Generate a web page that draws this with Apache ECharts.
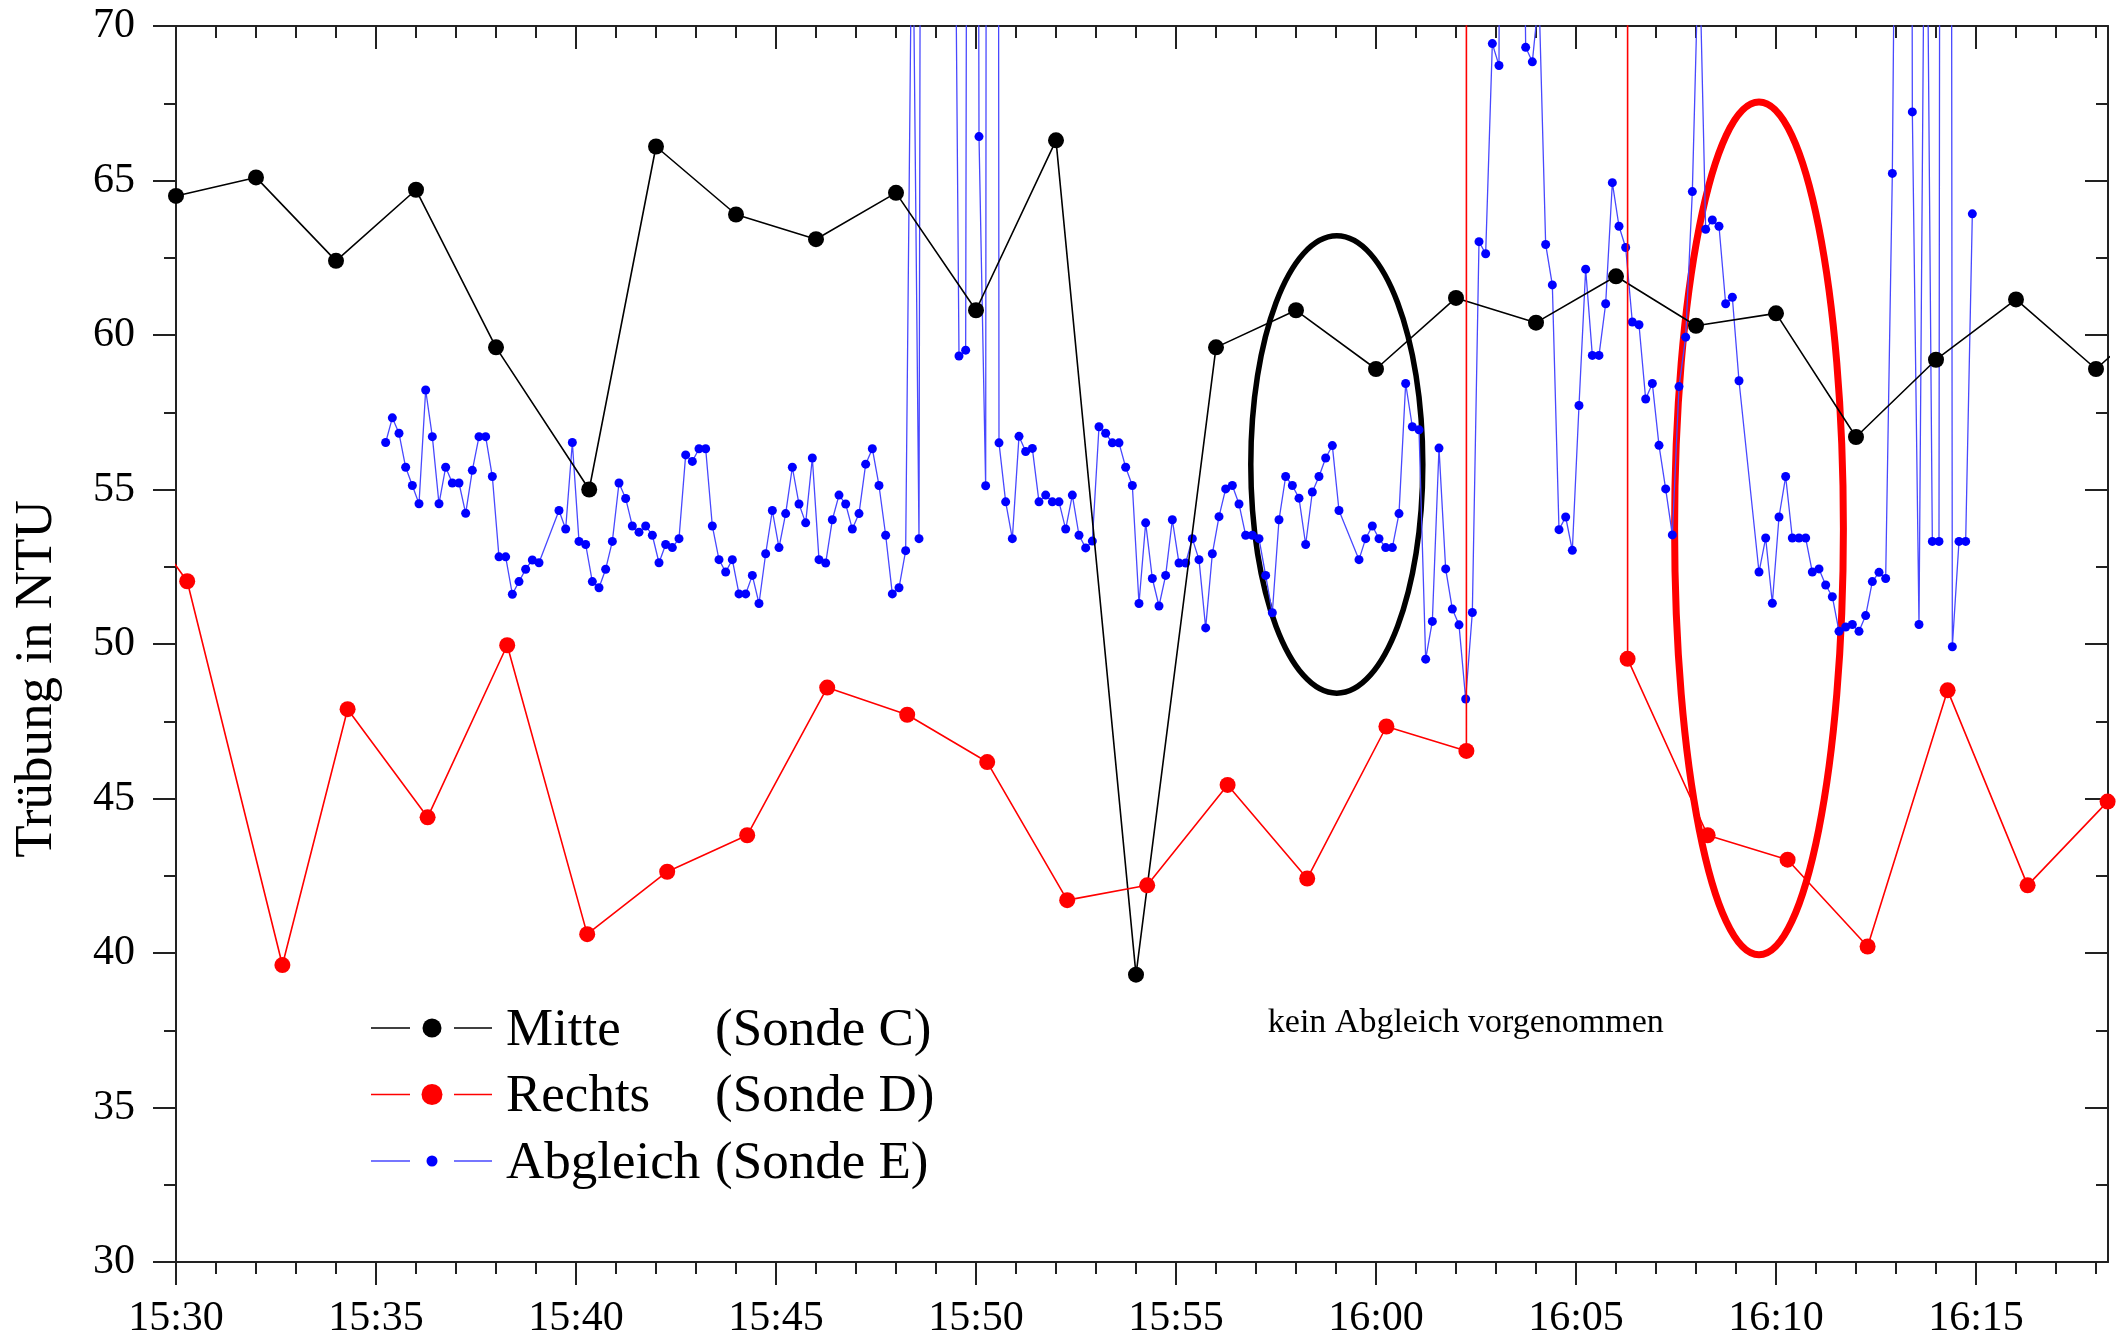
<!DOCTYPE html>
<html><head><meta charset="utf-8">
<script src="https://cdn.jsdelivr.net/npm/echarts@6/dist/echarts.min.js"></script>
<style>html,body{margin:0;padding:0;background:#fff}#c{width:2127px;height:1343px}</style>
</head><body><div id="c"></div>
<script>
// x values: minutes after 15:30
const xTickValues = [0, 5, 10, 15, 20, 25, 30, 35, 40, 45];
const xTickLabels = ['15:30','15:35','15:40','15:45','15:50','15:55','16:00','16:05','16:10','16:15'];
const xMinorTickValues = [0,1,2,3,4,5,6,7,8,9,10,11,12,13,14,15,16,17,18,19,20,21,22,23,24,25,26,27,28,29,30,31,32,33,34,35,36,37,38,39,40,41,42,43,44,45,46,47,48];
const xMin = 0, xMax = 48.3;
const yMin = 30, yMax = 70, yStep = 5;

const mitteTimes  = [0, 2, 4, 6, 8, 10.33, 12, 14, 16, 18, 20, 22, 24, 26, 28, 30, 32, 34, 36, 38, 40, 42, 44, 46, 48, 50];
const mitteValues = [64.5, 65.1, 62.4, 64.7, 59.6, 55.0, 66.1, 63.9, 63.1, 64.6, 60.8, 66.3, 39.3, 59.6, 60.8, 58.9, 61.2, 60.4, 61.9, 60.3, 60.7, 56.7, 59.2, 61.15, 58.9, 61.2];

const rechtsTimes  = [-1.72, 0.28, 2.66, 4.29, 6.29, 8.28, 10.28, 12.28, 14.28, 16.28, 18.28, 20.28, 22.28, 24.28, 26.29, 28.28, 30.26, 32.26, 32.26, 36.29, 36.29, 38.29, 40.29, 42.29, 44.29, 46.29, 48.29];
const rechtsValues = [55.6, 52.03, 39.61, 47.89, 44.39, 49.96, 40.61, 42.63, 43.81, 48.59, 47.71, 46.18, 41.71, 42.19, 45.44, 42.41, 47.33, 46.54, 500, 500, 49.52, 43.81, 43.02, 40.21, 48.5, 42.19, 44.9];

// Sonde E: one reading every 10 s, first at 15:35:14.5; null = no reading
const abgleichStart = 5.2417;
const abgleichStep = 1 / 6;
const abgleichValues = [
 56.52,57.32,56.82,55.72,55.13,54.54,58.22,56.71,54.54,55.72,
 55.21,55.21,54.23,55.62,56.71,56.71,55.42,52.82,52.82,51.61,
 52.02,52.42,52.72,52.63,null,null,54.32,53.72,56.52,53.32,
 53.22,52.02,51.82,52.42,53.32,55.21,54.71,53.82,53.62,53.82,
 53.52,52.63,53.22,53.12,53.41,56.12,55.91,56.32,56.32,53.82,
 52.73,52.33,52.73,51.62,51.62,52.22,51.31,52.92,54.32,53.12,
 54.22,55.72,54.53,53.92,56.02,52.73,52.62,54.02,54.82,54.53,
 53.72,54.22,55.82,56.32,55.13,53.52,51.62,51.82,53.02,75.5,
 53.41,160,150,130,110,86,59.32,59.51,165,66.42,
 55.12,300,56.51,54.60,53.41,56.72,56.23,56.33,54.60,54.82,
 54.60,54.60,53.72,54.82,53.52,53.11,53.33,57.03,56.82,56.51,
 56.51,55.72,55.13,51.31,53.92,52.12,51.23,52.22,54.02,52.62,
 52.62,53.41,52.73,50.52,52.92,54.12,55.02,55.13,54.53,53.52,
 53.52,53.41,52.22,51.01,54.02,55.42,55.13,54.72,53.22,54.92,
 55.42,56.02,56.42,54.32,null,null,52.73,53.41,53.82,53.41,
 53.12,53.12,54.22,58.43,57.03,56.93,49.51,50.73,56.34,52.43,
 51.13,50.62,48.22,51.02,63.02,62.63,69.43,68.72,150,150,
 90,69.31,68.84,71,62.93,61.62,53.70,54.11,53.03,57.72,
 62.13,59.34,59.34,61.01,64.93,63.52,62.83,60.42,60.33,57.93,
 58.43,56.43,55.02,53.53,58.33,59.93,64.64,73,63.42,63.72,
 63.52,61.01,61.22,58.52,null,null,52.33,53.43,51.32,54.11,
 55.42,53.43,53.43,53.43,52.33,52.43,51.91,51.53,50.41,50.55,
 50.63,50.41,50.92,52.02,52.32,52.12,65.23,90,200,67.22,
 50.63,80,53.32,53.32,250,49.91,53.32,53.32,63.92
];

// highlighted regions (data units: centre time, centre value, half width, half height)
const ellipseCenterX = [29.02, 39.575];
const ellipseCenterY = [55.81, 53.74];
const ellipseHalfW   = [2.15, 2.11];
const ellipseHalfH   = [7.40, 13.8];
const ellipseColors  = ['#000000', '#ff0000'];
const ellipseWidths  = [5.5, 7];

const noteText = 'kein Abgleich vorgenommen';
const noteX = 32.245, noteY = 37.72;

const legendNames  = ['Mitte', 'Rechts', 'Abgleich'];
const legendProbes = ['(Sonde C)', '(Sonde D)', '(Sonde E)'];
const legendLineColors = ['#000000', '#ff0000', '#4848ff'];
const legendDotColors  = ['#000000', '#ff0000', '#0000ff'];
const legendDotR = [9.5, 10.5, 5.5];

const FONT = "'Liberation Serif', 'Times New Roman', serif";
const AX = '#222';

const mitteData = mitteTimes.map((t, i) => [t, mitteValues[i]]);
const rechtsData = rechtsTimes.map((t, i) => [t, rechtsValues[i]]);
const abgleichData = [];
abgleichValues.forEach((v, i) => { if (v !== null) abgleichData.push([abgleichStart + i * abgleichStep, v]); });

const chart = echarts.init(document.getElementById('c'), null, {renderer: 'canvas'});

const legendGraphics = [];
const legY0 = 1028, legDY = 66.5;
legendNames.forEach((n, i) => {
  const y = legY0 + i * legDY;
  const ty = y + 3;
  legendGraphics.push({type: 'line', shape: {x1: 371, y1: y, x2: 410, y2: y}, style: {stroke: legendLineColors[i], lineWidth: 1.6}});
  legendGraphics.push({type: 'line', shape: {x1: 454, y1: y, x2: 492, y2: y}, style: {stroke: legendLineColors[i], lineWidth: 1.6}});
  legendGraphics.push({type: 'circle', shape: {cx: 432, cy: y, r: legendDotR[i]}, style: {fill: legendDotColors[i]}});
  legendGraphics.push({type: 'text', x: 506, y: ty, style: {text: n, font: "53px " + FONT, fill: '#000', align: 'left', verticalAlign: 'middle'}});
  legendGraphics.push({type: 'text', x: 715, y: ty, style: {text: legendProbes[i], font: "53px " + FONT, fill: '#000', align: 'left', verticalAlign: 'middle'}});
});

const baseX = {type: 'value', min: xMin, max: xMax, splitLine: {show: false}, minorSplitLine: {show: false}};
const tickStyle = {color: AX, width: 2};

chart.setOption({
  animation: false,
  backgroundColor: '#fff',
  grid: {left: 176, right: 19, top: 26, bottom: 81, containLabel: false},
  xAxis: [
    Object.assign({}, baseX, {position: 'bottom',
      axisLine: {show: true, onZero: false, lineStyle: {color: AX, width: 2}},
      axisTick: {show: true, customValues: xTickValues, length: 23, lineStyle: tickStyle},
      axisLabel: {show: true, customValues: xTickValues, margin: 36, fontSize: 42, fontFamily: FONT, color: '#000',
        formatter: v => { const k = xTickValues.indexOf(Math.round(v)); return k >= 0 ? xTickLabels[k] : ''; }}}),
    Object.assign({}, baseX, {position: 'bottom',
      axisLine: {show: false, onZero: false},
      axisTick: {show: true, customValues: xMinorTickValues, length: 12, lineStyle: tickStyle},
      axisLabel: {show: false}}),
    Object.assign({}, baseX, {position: 'top',
      axisLine: {show: true, onZero: false, lineStyle: {color: AX, width: 2}},
      axisTick: {show: true, inside: true, customValues: xTickValues, length: 23, lineStyle: tickStyle},
      axisLabel: {show: false}}),
    Object.assign({}, baseX, {position: 'top',
      axisLine: {show: false, onZero: false},
      axisTick: {show: true, inside: true, customValues: xMinorTickValues, length: 12, lineStyle: tickStyle},
      axisLabel: {show: false}})
  ],
  yAxis: [
    {type: 'value', position: 'left', min: yMin, max: yMax, interval: yStep,
      axisLine: {show: true, onZero: false, lineStyle: {color: AX, width: 2}},
      axisTick: {show: true, length: 23, lineStyle: tickStyle},
      minorTick: {show: true, splitNumber: 2, length: 12, lineStyle: tickStyle},
      axisLabel: {show: true, margin: 41, fontSize: 42, fontFamily: FONT, color: '#000'},
      splitLine: {show: false}, minorSplitLine: {show: false},
      name: 'Trübung in NTU', nameLocation: 'middle', nameRotate: 90, nameGap: 112,
      nameTextStyle: {fontSize: 53, fontFamily: FONT, color: '#000', padding: [0, 70, 0, 0]}},
    {type: 'value', position: 'right', min: yMin, max: yMax, interval: yStep,
      axisLine: {show: true, onZero: false, lineStyle: {color: AX, width: 2}},
      axisTick: {show: true, inside: true, length: 23, lineStyle: tickStyle},
      minorTick: {show: true, splitNumber: 2, length: 12, lineStyle: tickStyle},
      axisLabel: {show: false}, splitLine: {show: false}, minorSplitLine: {show: false}}
  ],
  graphic: legendGraphics,
  series: [
    {type: 'custom', name: 'Markierung', xAxisIndex: 0, yAxisIndex: 0, z: 1, silent: true, clip: false,
      encode: {x: 0, y: 1},
      data: ellipseCenterX.map((cx, i) => [cx, ellipseCenterY[i], ellipseHalfW[i], ellipseHalfH[i]]),
      renderItem: (params, api) => {
        const c = api.coord([api.value(0), api.value(1)]);
        const s = api.size([api.value(2), api.value(3)]);
        return {type: 'ellipse', shape: {cx: c[0], cy: c[1], rx: s[0], ry: s[1]},
          style: {fill: 'none', stroke: ellipseColors[params.dataIndex], lineWidth: ellipseWidths[params.dataIndex]}};
      }},
    {type: 'line', name: 'Abgleich (Sonde E)', xAxisIndex: 0, yAxisIndex: 0, z: 2, data: abgleichData,
      symbol: 'circle', symbolSize: 9, showSymbol: true, clip: true,
      lineStyle: {color: '#4848ff', width: 1.3}, itemStyle: {color: '#0000ff'}},
    {type: 'line', name: 'Mitte (Sonde C)', xAxisIndex: 0, yAxisIndex: 0, z: 3, data: mitteData,
      symbol: 'circle', symbolSize: 16, showSymbol: true, clip: true,
      lineStyle: {color: '#000', width: 1.6}, itemStyle: {color: '#000'}},
    {type: 'line', name: 'Rechts (Sonde D)', xAxisIndex: 0, yAxisIndex: 0, z: 4, data: rechtsData,
      symbol: 'circle', symbolSize: 16, showSymbol: true, clip: true,
      lineStyle: {color: '#ff0000', width: 1.6}, itemStyle: {color: '#ff0000'}},
    {type: 'custom', name: 'Hinweis', xAxisIndex: 0, yAxisIndex: 0, z: 5, silent: true, clip: false,
      encode: {x: 0, y: 1},
      data: [[noteX, noteY]],
      renderItem: (params, api) => {
        const c = api.coord([api.value(0), api.value(1)]);
        return {type: 'text', x: c[0], y: c[1],
          style: {text: noteText, font: "34px " + FONT, fill: '#000', align: 'center', verticalAlign: 'middle', textAlign: 'center', textVerticalAlign: 'middle'}};
      }}
  ]
});
</script></body></html>
